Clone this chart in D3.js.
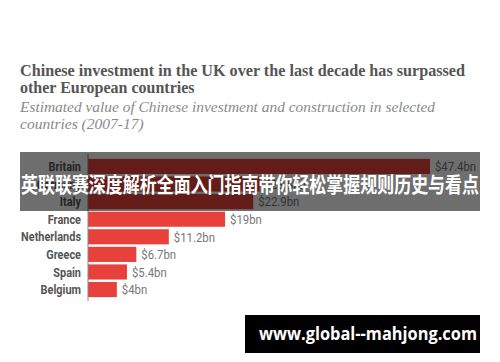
<!DOCTYPE html>
<html>
<head>
<meta charset="utf-8">
<script src="https://cdn.jsdelivr.net/npm/d3@7"></script>
<style>
    body { margin: 0; background: #fff; }
    svg { display: block; }
    .title { font-family: "Liberation Serif", "DejaVu Serif", serif; font-weight: bold; fill: #555; font-size: 16px; }
    .subtitle { font-family: "Liberation Serif", "DejaVu Serif", serif; font-style: italic; fill: #8a8a8a; font-size: 15.5px; }
    .label { font-family: "Roboto", sans-serif; font-weight: bold; fill: #555; font-size: 13px; }
    .value { font-family: "Roboto", sans-serif; fill: #777; font-size: 13.5px; }
</style>
</head>
<body>
<svg id="chart" width="500" height="362"></svg>
<script>
const COUNTRIES = ["Britain", "Germany", "Italy", "France", "Netherlands", "Greece", "Spain", "Belgium"];
const VALUES = [47.4, 23.8, 22.9, 19, 11.2, 6.7, 5.4, 4];
const VALUE_LABELS = ["$47.4bn", "$23.8bn", "$22.9bn", "$19bn", "$11.2bn", "$6.7bn", "$5.4bn", "$4bn"];
const TITLE_LINES = ["Chinese investment in the UK over the last decade has surpassed", "other European countries"];
const SUBTITLE_LINES = ["Estimated value of Chinese investment and construction in selected", "countries (2007-17)"];
const BANNER = "英联联赛深度解析全面入门指南带你轻松掌握规则历史与看点";
const WATERMARK = "www.global--mahjong.com";

// squeeze factor to mimic the condensed face of the original
const CONDENSE = 0.84;

const svg = d3.select("#chart");

// Titles (first lines stretched to the reference width)
svg.selectAll(".title")
    .data(TITLE_LINES)
    .enter()
    .append("text")
    .classed("title", true)
    .attr("x", 20)
    .attr("y", (d, i) => 76 + i * 17)
    .attr("textLength", (d, i) => i === 0 ? 445 : null)
    .attr("lengthAdjust", "spacingAndGlyphs")
    .text((d) => d);

svg.selectAll(".subtitle")
    .data(SUBTITLE_LINES)
    .enter()
    .append("text")
    .classed("subtitle", true)
    .attr("x", 20)
    .attr("y", (d, i) => 112 + i * 17)
    .attr("textLength", (d, i) => i === 0 ? 415 : null)
    .attr("lengthAdjust", "spacingAndGlyphs")
    .text((d) => d);

// Scales
const x = d3.scaleLinear()
    .domain([0, 47.4])
    .range([88, 430]);

const y = d3.scaleBand()
    .domain(COUNTRIES)
    .range([158, 298])
    .paddingInner(0.14)
    .paddingOuter(0.05);

const rows = COUNTRIES.map((c, i) => ({"country": c, "value": VALUES[i], "label": VALUE_LABELS[i]}));

svg.selectAll(".bar")
    .data(rows)
    .enter()
    .append("rect")
    .classed("bar", true)
    .attr("x", x(0))
    .attr("y", (d) => y(d.country))
    .attr("width", (d) => x(d.value) - x(0))
    .attr("height", y.bandwidth())
    .attr("fill", "#e8413b");

svg.append("line")
    .attr("x1", x(0))
    .attr("x2", x(0))
    .attr("y1", 154)
    .attr("y2", 301)
    .attr("stroke", "#888")
    .attr("stroke-width", 1);

const condense = function () {
    const w = this.getComputedTextLength();
    d3.select(this)
        .attr("textLength", w * CONDENSE)
        .attr("lengthAdjust", "spacingAndGlyphs");
};

svg.selectAll(".label")
    .data(rows)
    .enter()
    .append("text")
    .classed("label", true)
    .attr("x", 81)
    .attr("y", (d) => y(d.country) + y.bandwidth() / 2)
    .attr("dy", "0.36em")
    .attr("text-anchor", "end")
    .text((d) => d.country)
    .each(condense);

svg.selectAll(".value")
    .data(rows)
    .enter()
    .append("text")
    .classed("value", true)
    .attr("x", (d) => x(d.value) + 5)
    .attr("y", (d) => y(d.country) + y.bandwidth() / 2)
    .attr("dy", "0.36em")
    .text((d) => d.label)
    .each(condense);

// Overlay banner
svg.append("rect")
    .attr("x", 20)
    .attr("y", 152)
    .attr("width", 460)
    .attr("height", 59)
    .attr("fill", "#000")
    .attr("fill-opacity", 0.57);

svg.append("text")
    .attr("x", 250)
    .attr("y", 192)
    .attr("text-anchor", "middle")
    .attr("textLength", 458)
    .attr("lengthAdjust", "spacingAndGlyphs")
    .style("font-family", "'Noto Sans CJK SC', sans-serif")
    .style("font-weight", "bold")
    .style("font-size", "21px")
    .style("fill", "#fff")
    .text(BANNER);

// Watermark
svg.append("rect")
    .attr("x", 245)
    .attr("y", 315)
    .attr("width", 235)
    .attr("height", 38)
    .attr("fill", "#000");

svg.append("text")
    .attr("x", 368)
    .attr("y", 340)
    .attr("text-anchor", "middle")
    .attr("textLength", 218)
    .attr("lengthAdjust", "spacingAndGlyphs")
    .style("font-family", "'Open Sans', 'DejaVu Sans', sans-serif")
    .style("font-weight", "bold")
    .style("font-size", "17px")
    .style("fill", "#fff")
    .text(WATERMARK);
</script>
</body>
</html>
